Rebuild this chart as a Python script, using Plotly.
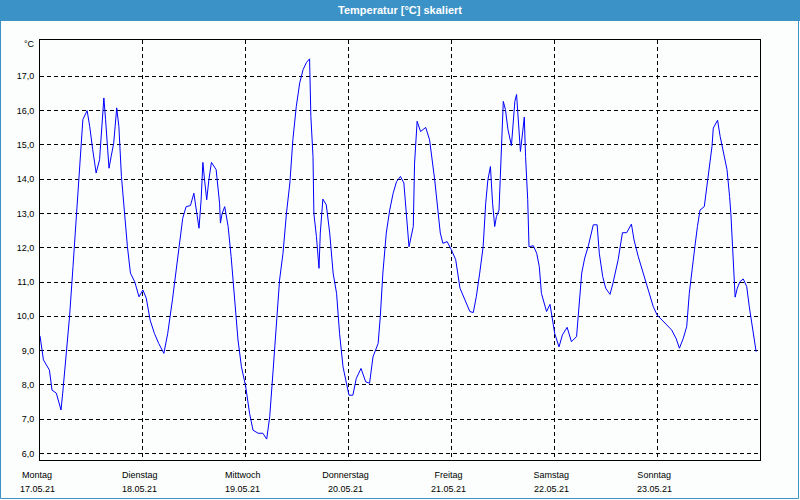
import plotly.graph_objects as go

# ---- data (hours since Monday 17.05.21 00:00, temperature in °C) ----
hours = [0, 0.8, 2.2, 2.8, 3.8, 4.9, 5.3, 6.1, 6.9, 7.7, 8.5, 9.2, 10.0, 11.0, 11.6, 12.3, 13.1, 13.9,
         14.5, 14.9, 15.3, 15.7, 16.1, 16.6, 17.2, 17.9, 18.4, 19.0, 19.7, 20.4, 21.1, 22.1, 23.1,
         24.0, 24.8, 25.7, 26.7, 27.7, 28.9, 29.8, 30.9, 31.8, 32.6, 33.3, 34.1, 35.1, 35.9, 36.5,
         37.1, 37.6, 38.0, 38.4, 38.9, 39.4, 40.0, 41.1, 41.9, 42.1, 42.5, 43.1, 43.9, 44.6, 45.4,
         46.2, 47.0, 48.0, 48.9, 49.7, 50.9, 52.0, 52.9, 53.6, 54.4, 55.2, 55.9, 56.7, 57.5, 58.3,
         59.0, 59.8, 60.6, 61.4, 62.2, 62.9, 63.2, 63.7, 63.9, 64.5, 64.9, 65.1, 65.4, 66.0, 66.8,
         67.6, 68.4, 69.2, 69.9, 70.7, 71.5, 72.1, 73.0, 73.8, 74.9, 76.0, 76.9, 77.7, 78.9, 79.4,
         80.0, 80.8, 81.6, 82.4, 83.2, 84.1, 84.9, 85.5, 86.1, 87.1, 87.4, 88.0, 88.8, 90.0, 90.9,
         92.1, 92.9, 93.4, 94.0, 95.0, 96.0, 97.0, 98.0, 99.1, 100.3, 101.1, 101.8, 102.6, 103.4,
         104.0, 104.5, 105.1, 105.6, 106.1, 106.5, 107.1, 107.5, 107.8, 108.1, 108.6, 109.2, 110.0,
         110.4, 110.8, 111.2, 111.6, 111.8, 112.1, 112.6, 113.0, 113.3, 113.8, 114.1, 115.1, 115.9,
         116.5, 117.0, 117.6, 118.2, 119.0, 119.6, 120.1, 121.1, 121.9, 123.0, 124.0, 125.2, 125.8,
         126.4, 127.1, 127.9, 129.1, 130.0, 130.5, 131.3, 132.0, 133.0, 133.7, 134.9, 135.9, 136.9,
         138.0, 138.6, 139.6, 140.8, 141.9, 143.1, 144.0, 145.1, 146.2, 147.4, 148.4, 149.2, 150.1,
         150.9, 151.5, 152.1, 152.8, 153.4, 154.0, 155.0, 155.6, 156.2, 156.8, 157.1, 158.1, 158.7,
         159.5, 160.3, 160.9, 161.2, 161.6, 162.0, 162.2, 162.7, 163.3, 164.1, 164.9, 165.5, 166.1,
         166.6, 167.1]
temps = [9.43, 8.73, 8.43, 7.85, 7.76, 7.27, 7.76, 8.82, 10.0, 11.45, 12.91, 14.18, 15.74, 16.0, 15.54,
         14.86, 14.18, 14.57, 15.54, 16.37, 15.74, 14.96, 14.32, 14.66, 15.05, 16.08, 15.54, 14.08,
         13.0, 12.03, 11.26, 11.01, 10.57, 10.77, 10.53, 9.89, 9.5, 9.21, 8.92, 9.5, 10.48, 11.35,
         12.23, 12.86, 13.2, 13.23, 13.59, 13.0, 12.57, 13.4, 14.49, 13.98, 13.4, 13.98, 14.49, 14.28,
         13.3, 12.72, 13.0, 13.2, 12.62, 11.74, 10.48, 9.31, 8.53, 7.95, 7.17, 6.68, 6.59, 6.59, 6.42,
         7.07, 8.43, 9.8, 11.06, 11.84, 13.0, 13.89, 15.15, 16.12, 16.81, 17.2, 17.41, 17.51, 15.83,
         14.66, 13.0, 12.33, 11.84, 11.4, 12.43, 13.42, 13.25, 12.43, 11.26, 10.67, 9.5, 8.53, 8.05,
         7.7, 7.7, 8.19, 8.48, 8.09, 8.05, 8.82, 9.21, 9.99, 11.26, 12.43, 13.1, 13.59, 13.93, 14.08,
         13.89, 13.0, 12.03, 12.62, 14.47, 15.69, 15.39, 15.51, 15.15, 13.98, 12.91, 12.43, 12.13,
         12.18, 11.94, 11.65, 10.82, 10.48, 10.14, 10.11, 10.57, 11.26, 12.03, 13.3, 13.98, 14.37,
         13.3, 12.62, 12.91, 13.1, 14.18, 15.15, 16.27, 16.03, 15.44, 14.98, 15.64, 16.27, 16.47,
         15.83, 15.25, 14.81, 15.35, 15.81, 14.66, 13.4, 12.03, 12.06, 11.84, 11.45, 10.67, 10.38,
         10.14, 10.35, 9.89, 9.5, 9.11, 9.46, 9.68, 9.26, 9.41, 10.28, 11.26, 11.7, 12.03, 12.67,
         12.67, 11.84, 11.16, 10.82, 10.64, 10.97, 11.65, 12.44, 12.44, 12.69, 12.23, 11.74, 11.26,
         10.77, 10.28, 10.04, 9.89, 9.75, 9.6, 9.36, 9.07, 9.36, 9.7, 10.67, 11.35, 12.03, 12.62,
         13.1, 13.2, 13.79, 14.28, 14.96, 15.49, 15.72, 15.25, 14.76, 14.28, 13.5, 13.0, 12.03, 10.87,
         10.56, 10.82, 11.01, 11.09, 10.87, 10.28, 9.8, 9.31, 8.97]

day_ticks = [0, 24, 48, 72, 96, 120, 144]
day_names = ["Montag", "Dienstag", "Mittwoch", "Donnerstag", "Freitag", "Samstag", "Sonntag"]
day_dates = ["17.05.21", "18.05.21", "19.05.21", "20.05.21", "21.05.21", "22.05.21", "23.05.21"]
y_ticks = [6, 7, 8, 9, 10, 11, 12, 13, 14, 15, 16, 17]

title_text = "Temperatur [°C] skaliert"
unit_text = "°C"

# ---- figure ----
W, H = 800, 500
ML, MR, MT, MB = 40, 40, 40, 40
PW, PH = W - ML - MR, H - MT - MB


def px_x(p):
    return (p - ML) / PW


def px_y(p):
    return (H - MB - p) / PH


FONT = "Liberation Sans"
BLUE_FRAME = "#3B92C6"

fig = go.Figure()
fig.add_trace(go.Scatter(x=hours, y=temps, mode="lines",
                         line=dict(color="#0000FF", width=1), hoverinfo="x+y",
                         showlegend=False))

annotations = []
for t, d in zip(day_ticks, day_dates):
    annotations.append(dict(x=t, y=px_y(489), xref="x", yref="paper", text=d,
                            showarrow=False, xanchor="center", yanchor="middle", xshift=-3,
                            font=dict(family=FONT, size=9, color="#000000")))
annotations.append(dict(x=px_x(37), y=px_y(44), xref="paper", yref="paper", text=unit_text,
                        showarrow=False, xanchor="right", yanchor="middle",
                        font=dict(family=FONT, size=9, color="#000000")))
annotations.append(dict(x=0.5, y=px_y(10), xref="paper", yref="paper", text="<b>" + title_text + "</b>",
                        showarrow=False, xanchor="center", yanchor="middle",
                        font=dict(family=FONT, size=11, color="#FFFFFF")))

shapes = [
    dict(type="rect", xref="paper", yref="paper", x0=px_x(0), x1=px_x(W), y0=px_y(21), y1=px_y(0),
         fillcolor=BLUE_FRAME, line=dict(width=0), layer="below"),
    dict(type="rect", xref="paper", yref="paper", x0=px_x(0.5), x1=px_x(798.5), y0=px_y(498.5),
         y1=px_y(20), fillcolor="rgba(0,0,0,0)", line=dict(color=BLUE_FRAME, width=1), layer="below"),
]

fig.update_layout(
    width=W, height=H,
    margin=dict(l=ML, r=MR, t=MT, b=MB, pad=0),
    paper_bgcolor="#FBFEFC", plot_bgcolor="#FBFEFC",
    separators=",.",
    font=dict(family=FONT, size=9, color="#000000"),
    annotations=annotations, shapes=shapes,
    showlegend=False,
)
fig.update_xaxes(range=[0, 168], tickvals=day_ticks, ticktext=day_names,
                 showgrid=True, gridcolor="#000000", gridwidth=1, griddash="4px,3px",
                 showline=True, linecolor="#000000", linewidth=1, mirror=True,
                 ticks="", ticklabelshift=-3, ticklabelstandoff=6, zeroline=False,
                 tickfont=dict(family=FONT, size=9, color="#000000"))
fig.update_yaxes(range=[5.81, 18.06], tickvals=y_ticks, tickformat=".1f",
                 showgrid=True, gridcolor="#000000", gridwidth=1, griddash="4px,3px",
                 showline=True, linecolor="#000000", linewidth=1, mirror=True,
                 ticks="", ticklabelstandoff=3, zeroline=False,
                 tickfont=dict(family=FONT, size=9, color="#000000"))

fig.write_html("out.html", config={"displayModeBar": False},
               post_script="document.body.style.margin='0';document.body.style.padding='0';")
